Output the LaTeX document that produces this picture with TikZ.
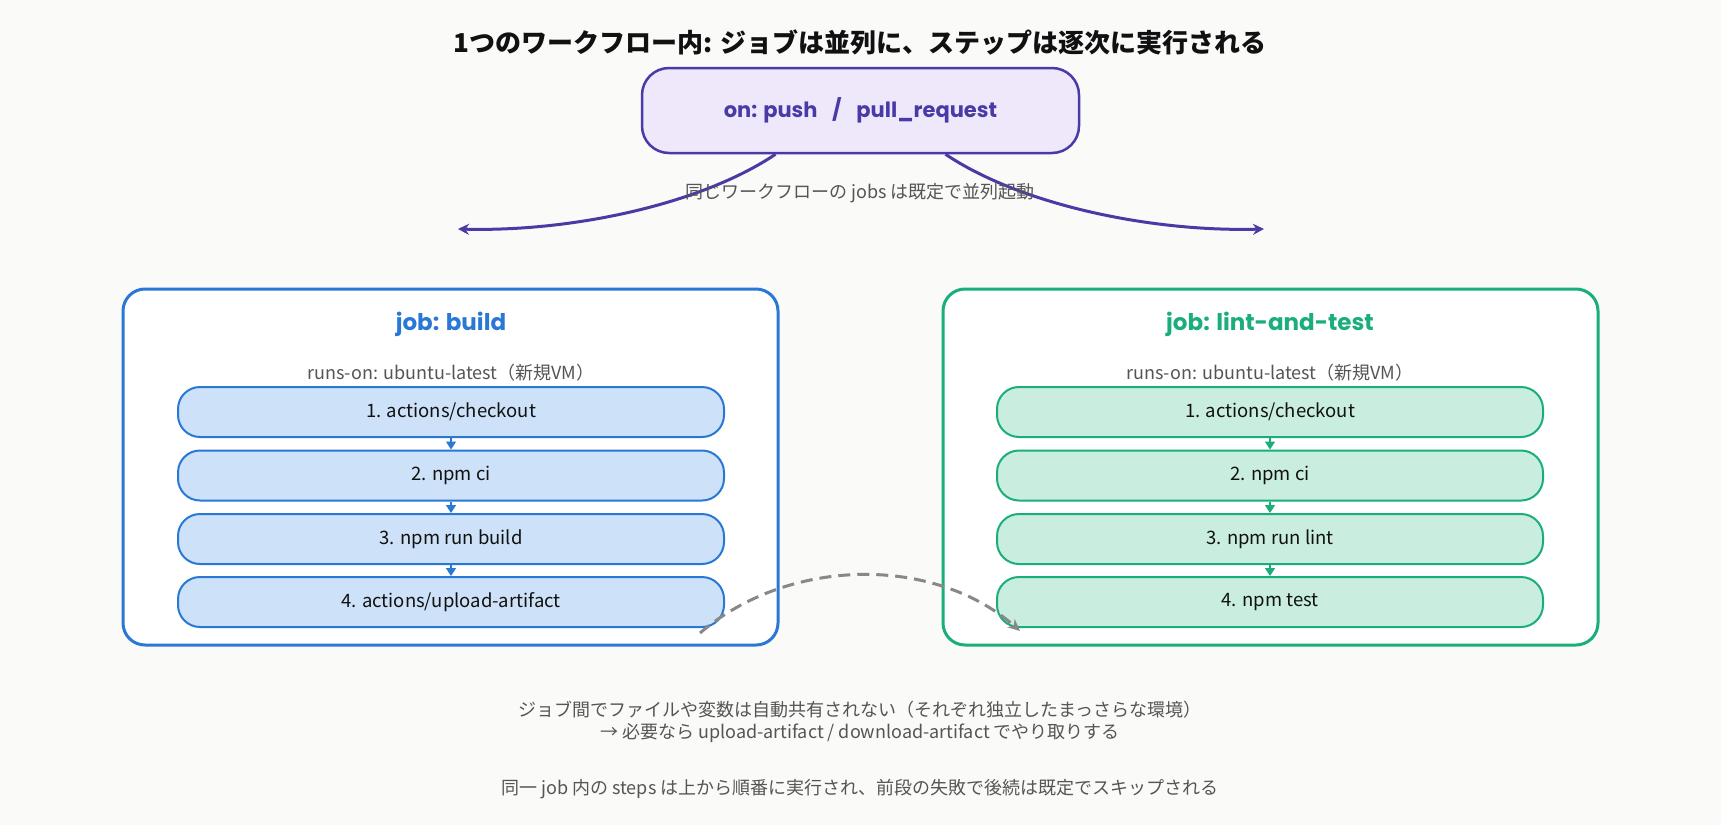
\documentclass[tikz,border=0pt]{standalone}
\usepackage{fontspec}
\setmainfont{Noto Sans CJK JP}
\newfontfamily\pop{Poppins}
\usetikzlibrary{arrows.meta,calc}
\definecolor{bg}{HTML}{FAFAF8}
\definecolor{purp}{HTML}{4A3AA6}
\definecolor{purpfill}{HTML}{EFE8FB}
\definecolor{blu}{HTML}{2A78D5}
\definecolor{blufill}{HTML}{CDE2F8}
\definecolor{grn}{HTML}{1AAE7A}
\definecolor{grnfill}{HTML}{C9EEDF}
\definecolor{txtgray}{HTML}{555555}
\definecolor{dashgray}{HTML}{888888}
\definecolor{ink}{HTML}{111111}
\tikzset{
  jobbox/.style={draw=#1, line width=3pt, fill=white, rounded corners=22pt,
    minimum width=655pt, minimum height=356pt, inner sep=0pt},
  stepbox/.style={draw=#1, line width=2pt, rounded corners=22pt,
    minimum width=546pt, minimum height=50pt, inner sep=0pt,
    font=\fontsize{18.5}{22}\selectfont, text=ink},
  steparrow/.style={draw=#1, line width=1.5pt, -{Triangle[length=8pt,width=10pt]}, fill=#1},
  jobtitle/.style={font=\pop\bfseries\fontsize{23}{26}\selectfont, text=#1},
  note/.style={font=\fontsize{18}{22}\selectfont, text=txtgray, align=center},
}
\begin{document}
\begin{tikzpicture}[x=1pt,y=-1pt]
\fill[bg] (0,0) rectangle (1721,825);
\useasboundingbox (0,0) rectangle (1721,825);

\node[font=\bfseries\fontsize{26}{30}\selectfont, text=ink] (title) at (860,42)
  {1つのワークフロー内: ジョブは並列に、ステップは逐次に実行される};

\node[draw=purp, fill=purpfill, line width=2.5pt, rounded corners=27pt,
  minimum width=437pt, minimum height=85pt, inner sep=0pt,
  font=\pop\bfseries\fontsize{21}{24}\selectfont, text=purp] (trig) at (860.5,110.5)
  {on: push\hspace{0.7em}/\hspace{0.7em}pull\_request};

\coordinate (la) at (458,229);
\coordinate (ra) at (1264,229);
\draw[purp, line width=3pt, -{Stealth[length=11pt,width=11pt]}]
  ($(trig.south)+(-85,0)$) .. controls (700,205) and (570,232) .. (la);
\draw[purp, line width=3pt, -{Stealth[length=11pt,width=11pt]}]
  ($(trig.south)+(85,0)$) .. controls (1021,205) and (1151,232) .. (ra);
\node[font=\fontsize{18}{20}\selectfont, text=txtgray] (par) at (860,193)
  {同じワークフローの jobs は既定で並列起動};

% build job
\node[jobbox=blu] (jb) at (450.5,467) {};
\node[jobtitle=blu] (jbt) at (451,324) {job: build};
\node[note] (jbr) at (451,373) {runs-on: ubuntu-latest（新規VM）};
\node[stepbox=blu, fill=blufill] (b1) at (451,412) {1. actions/checkout};
\node[stepbox=blu, fill=blufill] (b2) at (451,475.5) {2. npm ci};
\node[stepbox=blu, fill=blufill] (b3) at (451,539) {3. npm run build};
\node[stepbox=blu, fill=blufill] (b4) at (451,602) {4. actions/upload-artifact};
\draw[steparrow=blu] (b1.south) -- (b2.north);
\draw[steparrow=blu] (b2.south) -- (b3.north);
\draw[steparrow=blu] (b3.south) -- (b4.north);

% lint-and-test job
\node[jobbox=grn] (jg) at (1270.5,467) {};
\node[jobtitle=grn] (jgt) at (1270,324) {job: lint-and-test};
\node[note] (jgr) at (1270,373) {runs-on: ubuntu-latest（新規VM）};
\node[stepbox=grn, fill=grnfill] (g1) at (1270,412) {1. actions/checkout};
\node[stepbox=grn, fill=grnfill] (g2) at (1270,475.5) {2. npm ci};
\node[stepbox=grn, fill=grnfill] (g3) at (1270,539) {3. npm run lint};
\node[stepbox=grn, fill=grnfill] (g4) at (1270,602) {4. npm test};
\draw[steparrow=grn] (g1.south) -- (g2.north);
\draw[steparrow=grn] (g2.south) -- (g3.north);
\draw[steparrow=grn] (g3.south) -- (g4.north);

% artifact hand-off
\draw[dashgray, line width=3pt, dash pattern=on 12pt off 7pt, -{Stealth[length=12pt,width=11pt]}]
  ($(b4.south east)+(-25,5)$) .. controls (790,556) and (935,556) .. ($(g4.south west)+(24,3)$);

\node[note] (n1) at (860,722)
  {ジョブ間でファイルや変数は自動共有されない（それぞれ独立したまっさらな環境）\\
   → 必要なら upload-artifact / download-artifact でやり取りする};
\node[note] (n2) at (860,789)
  {同一 job 内の steps は上から順番に実行され、前段の失敗で後続は既定でスキップされる};
\end{tikzpicture}
\end{document}
